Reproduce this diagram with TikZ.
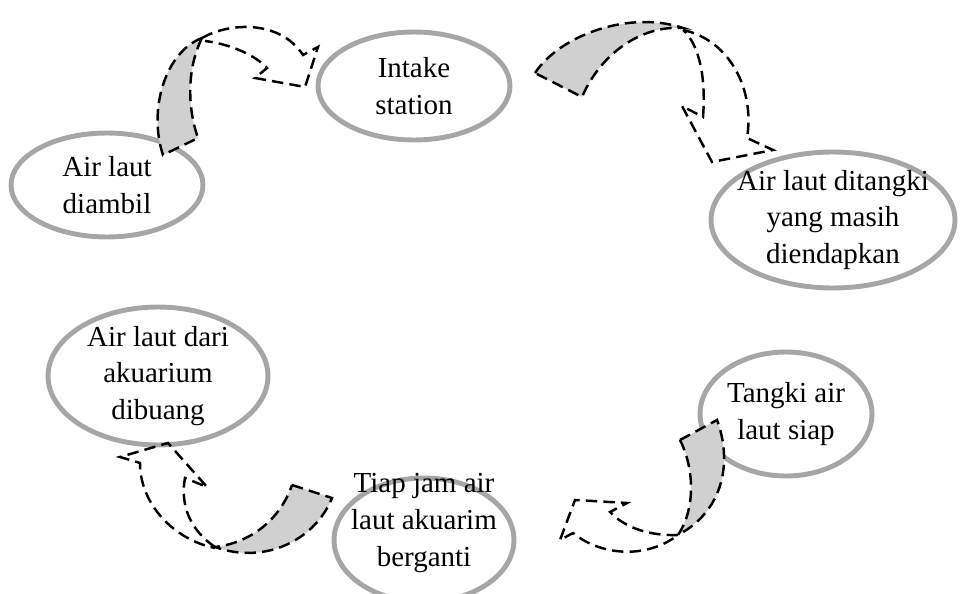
\documentclass[tikz,border=0pt]{standalone}
\usepackage{fontspec}
\setmainfont{Liberation Serif}
\usepackage{xcolor}
\usepackage{tikz}
\usetikzlibrary{shapes.geometric}

\definecolor{ringgray}{RGB}{166,166,166}
\definecolor{bandgray}{RGB}{208,208,208}

\begin{document}
\begin{tikzpicture}[x=0.02cm, y=-0.02cm,
    ring/.style={ellipse, draw=ringgray, line width=2.8pt, inner sep=0pt},
    txt/.style={align=center, font=\fontsize{16.5}{21}\selectfont},
    dashline/.style={line width=1.4pt, dash pattern=on 6.5pt off 3.5pt, line join=miter},
    band/.style={dashline, fill=bandgray}]
        \useasboundingbox (0,0) rectangle (960,594);

        % Elips
        \node[ring, minimum width=3.84cm, minimum height=2.16cm,
            label={[txt]center:Intake\\station}] (intake) at (414,86) {};
        \node[ring, minimum width=3.84cm, minimum height=2.08cm,
            label={[txt]center:Air laut\\diambil}] (diambil) at (107,185) {};
        \node[ring, minimum width=4.88cm, minimum height=2.72cm,
            label={[txt]center:Air laut ditangki\\yang masih\\diendapkan}] (ditangki) at (833,220) {};
        \node[ring, minimum width=4.40cm, minimum height=2.76cm,
            label={[txt]center:Air laut dari\\akuarium\\dibuang}] (dibuang) at (158,376) {};
        \node[ring, minimum width=3.44cm, minimum height=2.48cm,
            label={[txt]center:Tangki air\\laut siap}] (tangki) at (786,414) {};
        \node[ring, minimum width=3.60cm, minimum height=2.48cm,
            label={[txt, yshift=0.34cm]center:Tiap jam air\\laut akuarim\\berganti}] (tiap) at (424,540) {};

        % Panah diambil -> intake
        \draw[band] (202,38) .. controls (165,52) and (148,110) .. (163,155)
            -- (198,138) .. controls (188,110) and (186,70) .. (202,38) -- cycle;
        \draw[dashline] (202,38) .. controls (230,22) and (280,20) .. (303,55)
            -- (318,47) -- (305,87) -- (255,78) -- (267,68)
            .. controls (255,55) and (230,44) .. (205,41);

        % Panah intake -> ditangki
        \draw[band] (535,73) .. controls (560,35) and (630,10) .. (683,28)
            .. controls (640,25) and (600,55) .. (582,97) -- cycle;
        \draw[dashline] (683,30) .. controls (730,40) and (755,90) .. (747,138)
            -- (773,150) -- (712,162) -- (682,106) -- (703,117)
            .. controls (706,80) and (700,45) .. (683,30);

        % Panah tangki -> tiap
        \draw[band] (680,440) -- (717,420) .. controls (732,460) and (725,510) .. (678,535)
            .. controls (695,510) and (695,470) .. (680,440) -- cycle;
        \draw[dashline] (678,535) .. controls (650,536) and (625,528) .. (610,512)
            -- (627,503) -- (575,500) -- (560,540) -- (573,533)
            .. controls (600,555) and (645,560) .. (678,535);

        % Panah tiap -> dibuang
        \draw[band] (292,485) -- (332,498) .. controls (315,540) and (265,565) .. (215,547)
            .. controls (250,543) and (280,520) .. (292,485) -- cycle;
        \draw[dashline] (215,547) .. controls (190,530) and (180,505) .. (185,478)
            -- (207,487) -- (168,443) -- (120,457) -- (140,463)
            .. controls (140,505) and (175,540) .. (215,548);
    \end{tikzpicture}
\end{document}
